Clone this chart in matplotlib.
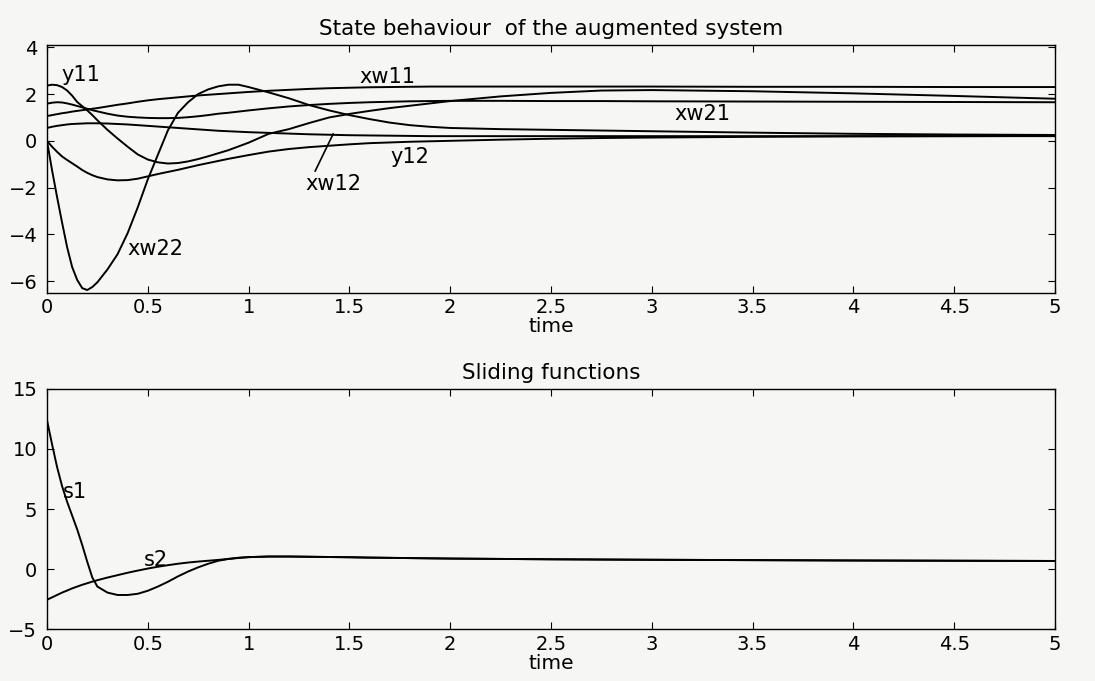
import numpy as np
import matplotlib
matplotlib.use('Agg')
import matplotlib.pyplot as plt

plt.rcParams.update({
    'font.family': ['DejaVu Sans'],
    'font.size': 14,
    'axes.linewidth': 1.0,
    'xtick.direction': 'in',
    'ytick.direction': 'in',
    'xtick.top': True,
    'ytick.right': True,
    'xtick.major.size': 5,
    'ytick.major.size': 5,
})

# time grid (denser where the curves move fast)
time = [0, 0.025, 0.05, 0.075, 0.1, 0.125, 0.15, 0.175, 0.2, 0.225, 0.25,
        0.3, 0.35, 0.4, 0.45, 0.5, 0.55, 0.6, 0.65, 0.7, 0.75, 0.8, 0.85,
        0.9, 0.95, 1.0, 1.1, 1.2, 1.3, 1.4, 1.5, 1.6, 1.7, 1.8, 1.9, 2.0,
        2.25, 2.5, 2.75, 3.0, 3.5, 4.0, 4.5, 5.0]

# state behaviour
y11 = [2.36, 2.40, 2.38, 2.30, 2.15, 1.93, 1.66, 1.48, 1.30, 1.10, 0.88,
       0.47, 0.10, -0.25, -0.58, -0.80, -0.92, -0.97, -0.95, -0.88, -0.78, -0.66, -0.53,
       -0.40, -0.24, -0.08, 0.30, 0.50, 0.76, 1.00, 1.15, 1.28, 1.40, 1.50, 1.60, 1.70,
       1.90, 2.05, 2.15, 2.17, 2.12, 2.03, 1.92, 1.80]
y12 = [0.0, -0.25, -0.47, -0.67, -0.82, -0.96, -1.10, -1.25, -1.37, -1.47, -1.55,
       -1.65, -1.69, -1.68, -1.62, -1.52, -1.42, -1.33, -1.24, -1.14, -1.04, -0.95, -0.86,
       -0.77, -0.69, -0.61, -0.46, -0.35, -0.27, -0.21, -0.15, -0.10, -0.07, -0.04, -0.02, 0.0,
       0.05, 0.09, 0.12, 0.14, 0.17, 0.19, 0.20, 0.21]
xw11 = [1.06, 1.10, 1.14, 1.18, 1.21, 1.25, 1.28, 1.31, 1.34, 1.37, 1.40,
        1.47, 1.54, 1.60, 1.67, 1.73, 1.78, 1.82, 1.86, 1.90, 1.94, 1.97, 2.00,
        2.03, 2.06, 2.09, 2.14, 2.18, 2.22, 2.25, 2.27, 2.29, 2.30, 2.31, 2.32, 2.32,
        2.32, 2.32, 2.32, 2.32, 2.31, 2.31, 2.30, 2.30]
xw12 = [0.55, 0.60, 0.64, 0.67, 0.70, 0.72, 0.73, 0.74, 0.75, 0.75, 0.75,
        0.74, 0.72, 0.70, 0.67, 0.64, 0.61, 0.58, 0.55, 0.52, 0.49, 0.46, 0.43,
        0.41, 0.39, 0.37, 0.34, 0.31, 0.28, 0.26, 0.24, 0.23, 0.22, 0.21, 0.20, 0.20,
        0.20, 0.20, 0.20, 0.20, 0.20, 0.20, 0.20, 0.20]
xw21 = [1.59, 1.63, 1.65, 1.64, 1.60, 1.55, 1.49, 1.43, 1.37, 1.31, 1.26,
        1.16, 1.08, 1.03, 1.00, 0.98, 0.97, 0.97, 0.98, 1.01, 1.05, 1.10, 1.16,
        1.20, 1.25, 1.30, 1.39, 1.47, 1.53, 1.58, 1.62, 1.65, 1.67, 1.69, 1.70, 1.71,
        1.71, 1.70, 1.70, 1.69, 1.68, 1.67, 1.66, 1.65]
xw22 = [0.0, -1.25, -2.40, -3.50, -4.55, -5.40, -5.95, -6.30, -6.38, -6.25, -6.05,
        -5.50, -4.85, -3.95, -2.85, -1.65, -0.60, 0.45, 1.20, 1.65, 2.00, 2.20, 2.33,
        2.40, 2.40, 2.30, 2.07, 1.82, 1.53, 1.30, 1.10, 0.93, 0.78, 0.67, 0.60, 0.55,
        0.50, 0.47, 0.44, 0.41, 0.35, 0.30, 0.27, 0.25]

# sliding functions
s1 = [12.4, 10.4, 8.5, 6.9, 5.6, 4.45, 3.3, 2.0, 0.6, -0.7, -1.45,
      -1.95, -2.15, -2.15, -2.05, -1.80, -1.45, -1.05, -0.60, -0.20, 0.15, 0.45, 0.70,
      0.85, 0.95, 1.00, 1.05, 1.05, 1.03, 1.01, 0.99, 0.96, 0.94, 0.92, 0.90, 0.88,
      0.85, 0.82, 0.80, 0.78, 0.75, 0.72, 0.70, 0.68]
s2 = [-2.55, -2.35, -2.15, -1.95, -1.78, -1.60, -1.45, -1.30, -1.17, -1.04, -0.92,
      -0.70, -0.50, -0.30, -0.12, 0.05, 0.20, 0.33, 0.45, 0.55, 0.63, 0.70, 0.77,
      0.85, 0.93, 1.00, 1.05, 1.05, 1.03, 1.01, 0.99, 0.96, 0.94, 0.92, 0.90, 0.88,
      0.85, 0.82, 0.80, 0.78, 0.75, 0.72, 0.70, 0.68]

xticks = [0, 0.5, 1, 1.5, 2, 2.5, 3, 3.5, 4, 4.5, 5]
xticklabels = ['0', '0.5', '1', '1.5', '2', '2.5', '3', '3.5', '4', '4.5', '5']

bg = '#f6f6f4'
fig = plt.figure(figsize=(10.95, 6.81), dpi=100, facecolor=bg)
ax1 = fig.add_axes([0.0429, 0.570, 0.9205, 0.364], facecolor=bg)
ax2 = fig.add_axes([0.0429, 0.076, 0.9205, 0.353], facecolor=bg)

for s in [y11, y12, xw11, xw12, xw21, xw22]:
    ax1.plot(time, s, color='black', lw=1.4)
for s in [s1, s2]:
    ax2.plot(time, s, color='black', lw=1.4)

ax1.set_xlim(0, 5)
ax1.set_ylim(-6.5, 4.1)
ax1.set_yticks([-6, -4, -2, 0, 2, 4])
ax2.set_xlim(0, 5)
ax2.set_ylim(-5, 15)
ax2.set_yticks([-5, 0, 5, 10, 15])

for ax in (ax1, ax2):
    ax.set_xticks(xticks)
    ax.set_xticklabels(xticklabels)
    ax.tick_params(axis='y', pad=7, labelsize=14)
    ax.tick_params(axis='x', pad=4, labelsize=14)

ax1.set_title('State behaviour  of the augmented system', fontsize=15.5, pad=7)
ax2.set_title('Sliding functions', fontsize=15.5, pad=7)
ax1.set_xlabel('time', fontsize=14.5, labelpad=0)
ax2.set_xlabel('time', fontsize=14.5, labelpad=0)

lab = dict(fontsize=15, ha='center', va='center')
ax1.text(0.17, 2.8, 'y11', **lab)
ax1.text(1.69, 2.73, 'xw11', **lab)
ax1.text(3.25, 1.16, 'xw21', **lab)
ax1.text(1.80, -0.69, 'y12', **lab)
ax1.text(0.54, -4.62, 'xw22', **lab)
ax1.text(1.42, -1.85, 'xw12', **lab)
# leader line from the xw12 label to its curve
ax1.annotate('', xy=(1.42, 0.30), xytext=(1.33, -1.30),
             arrowprops=dict(arrowstyle='-', color='black', lw=1.2,
                             shrinkA=0, shrinkB=0))
ax2.text(0.14, 6.4, 's1', **lab)
ax2.text(0.54, 0.73, 's2', **lab)

fig.savefig('out.png', dpi=100, facecolor=bg)
